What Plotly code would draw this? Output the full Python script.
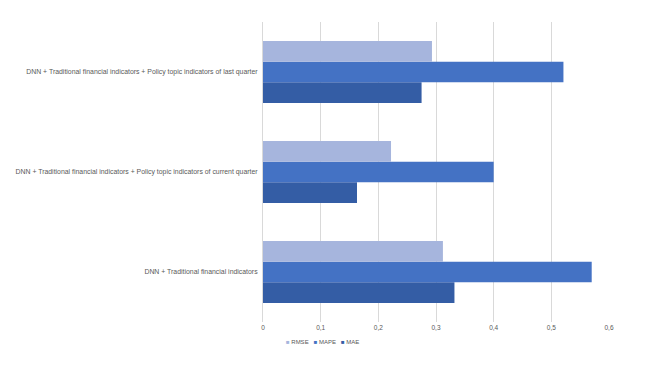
import plotly.graph_objects as go

categories = [
    "DNN + Traditional financial indicators",
    "DNN + Traditional financial indicators + Policy topic indicators of current quarter",
    "DNN + Traditional financial indicators + Policy topic indicators of last quarter",
]
rmse = [0.312, 0.222, 0.293]
mape = [0.570, 0.400, 0.521]
mae = [0.332, 0.163, 0.275]

series_names = ["RMSE", "MAPE", "MAE"]
series_colors = ["#A6B5DD", "#4472C4", "#345DA5"]

tick_vals = [0, 0.1, 0.2, 0.3, 0.4, 0.5, 0.6]
tick_text = ["0", "0,1", "0,2", "0,3", "0,4", "0,5", "0,6"]

font_family = "Liberation Sans, Arial, sans-serif"

fig = go.Figure()
fig.add_trace(go.Bar(y=categories, x=mae, name="MAE", orientation="h", showlegend=False,
                     marker=dict(color=series_colors[2], line=dict(width=0))))
fig.add_trace(go.Bar(y=categories, x=mape, name="MAPE", orientation="h", showlegend=False,
                     marker=dict(color=series_colors[1], line=dict(width=0))))
fig.add_trace(go.Bar(y=categories, x=rmse, name="RMSE", orientation="h", showlegend=False,
                     marker=dict(color=series_colors[0], line=dict(width=0))))

# compact legend as text with coloured square glyphs
legend_text = "&nbsp;&nbsp;&nbsp;".join(
    f"<span style='color:{c}'>■</span>&nbsp;{n}" for n, c in zip(series_names, series_colors)
)
fig.add_annotation(text=legend_text, xref="paper", yref="paper", x=0.06, y=-0.067,
                   xanchor="left", yanchor="middle", showarrow=False,
                   font=dict(size=6, color="#595959", family=font_family))

fig.update_layout(
    width=634, height=349,
    margin=dict(l=255, r=33, t=14, b=35),
    plot_bgcolor="white", paper_bgcolor="white",
    barmode="group", bargap=0.38, bargroupgap=0,
    font=dict(family=font_family, size=7, color="#595959"),
    showlegend=False,
    xaxis=dict(range=[0, 0.6], tickvals=tick_vals, ticktext=tick_text,
               showgrid=True, gridcolor="#D9D9D9", gridwidth=1, automargin=False,
               zeroline=False, showline=False, ticks="", ticklen=0,
               tickfont=dict(size=6.5, color="#595959")),
    yaxis=dict(showgrid=False, zeroline=False, showline=True, linecolor="#D9D9D9",
               linewidth=1, ticks="", ticklabelstandoff=3, automargin=False,
               tickfont=dict(size=6.9, color="#595959")),
)

fig.write_html("out.html")
